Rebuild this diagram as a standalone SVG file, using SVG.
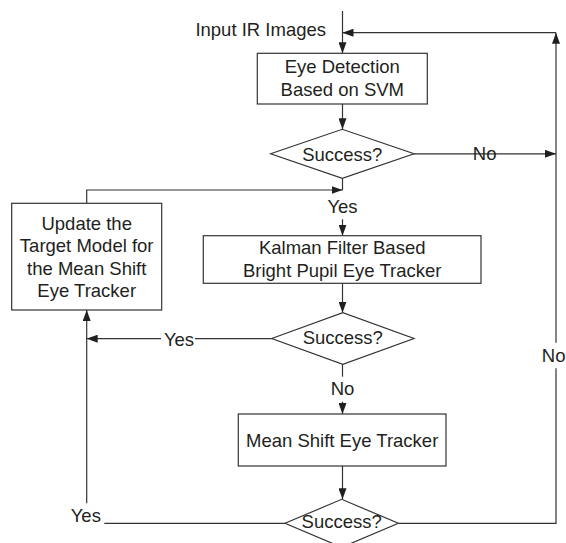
<svg xmlns="http://www.w3.org/2000/svg" width="566" height="543" viewBox="0 0 566 543">
<style>
.n{fill:#fff;stroke:#333;stroke-width:1.2}
.c{fill:none;stroke:#333;stroke-width:1.2}
text{font-family:"Liberation Sans",Arial,sans-serif;font-size:18.5px;fill:#231f20}
.m{text-anchor:middle}
</style>
<defs>
<marker id="a" markerUnits="userSpaceOnUse" markerWidth="11" markerHeight="8" refX="11" refY="4" orient="auto">
<path d="M0,0 L11,4 L0,8 z" fill="#231f20"/>
</marker>
</defs>
<rect width="566" height="543" fill="#fff"/>
<g id="connectors">
<path class="c" d="M342.5,11 V53.3" marker-end="url(#a)"/>
<path class="c" d="M398.3,523.3 H556 V368.3"/>
<path class="c" d="M556,342.7 V32.7" marker-end="url(#a)"/>
<path class="c" d="M556,32.7 H342.5" marker-end="url(#a)"/>
<path class="c" d="M342.5,104 V129.3" marker-end="url(#a)"/>
<path class="c" d="M414,153.8 H556" marker-end="url(#a)"/>
<path class="c" d="M342.5,178.3 V190"/>
<path class="c" d="M86.7,203.3 V190 H342.5" marker-end="url(#a)"/>
<path class="c" d="M342.5,219.3 V235.7" marker-end="url(#a)"/>
<path class="c" d="M342.5,283.3 V312.7" marker-end="url(#a)"/>
<path class="c" d="M271.7,338.7 H195"/>
<path class="c" d="M161,338.7 H86.7" marker-end="url(#a)"/>
<path class="c" d="M342.5,364.3 V376.7"/>
<path class="c" d="M342.5,401.7 V414" marker-end="url(#a)"/>
<path class="c" d="M342.5,466 V499.3" marker-end="url(#a)"/>
<path class="c" d="M285,523.3 H104.3"/>
<path class="c" d="M86.7,503.3 V310" marker-end="url(#a)"/>
</g>
<g id="labels">
<text x="326" y="36" text-anchor="end">Input IR Images</text>
<text class="m" x="484.7" y="160">No</text>
<text class="m" x="342.5" y="213.3">Yes</text>
<text class="m" x="179" y="345.5">Yes</text>
<text class="m" x="342.5" y="395">No</text>
<text class="m" x="85.8" y="521.7">Yes</text>
<text x="565.5" y="362" text-anchor="end">No</text>
</g>
<g id="svm">
<rect class="n" x="257.3" y="53.3" width="170" height="50.7"/>
<text class="m" x="342.3" y="73.3">Eye Detection</text>
<text class="m" x="342.3" y="96">Based on SVM</text>
</g>
<g id="d1">
<path class="n" d="M270.6,153.8 L342.3,129.3 L414,153.8 L342.3,178.3 z"/>
<text class="m" x="342.3" y="161">Success?</text>
</g>
<g id="update">
<rect class="n" x="11.7" y="203.3" width="150" height="106.7"/>
<text class="m" x="86.7" y="229.5">Update the</text>
<text class="m" x="86.7" y="252">Target Model for</text>
<text class="m" x="86.7" y="274.5">the Mean Shift</text>
<text class="m" x="86.7" y="297">Eye Tracker</text>
</g>
<g id="kalman">
<rect class="n" x="203.3" y="235.7" width="277.7" height="47.6"/>
<text class="m" x="342.2" y="254">Kalman Filter Based</text>
<text class="m" x="342.2" y="276.5">Bright Pupil Eye Tracker</text>
</g>
<g id="d2">
<path class="n" d="M271.7,338.5 L342.8,312.7 L414,338.5 L342.8,364.3 z"/>
<text class="m" x="342.8" y="344">Success?</text>
</g>
<g id="meanshift">
<rect class="n" x="238.3" y="414" width="207.7" height="52"/>
<text class="m" x="342.2" y="446.7">Mean Shift Eye Tracker</text>
</g>
<g id="d3">
<path class="n" d="M285,523.3 L341.7,499.3 L398.4,523.3 L341.7,547.3 z"/>
<text class="m" x="341.7" y="528">Success?</text>
</g>
</svg>
